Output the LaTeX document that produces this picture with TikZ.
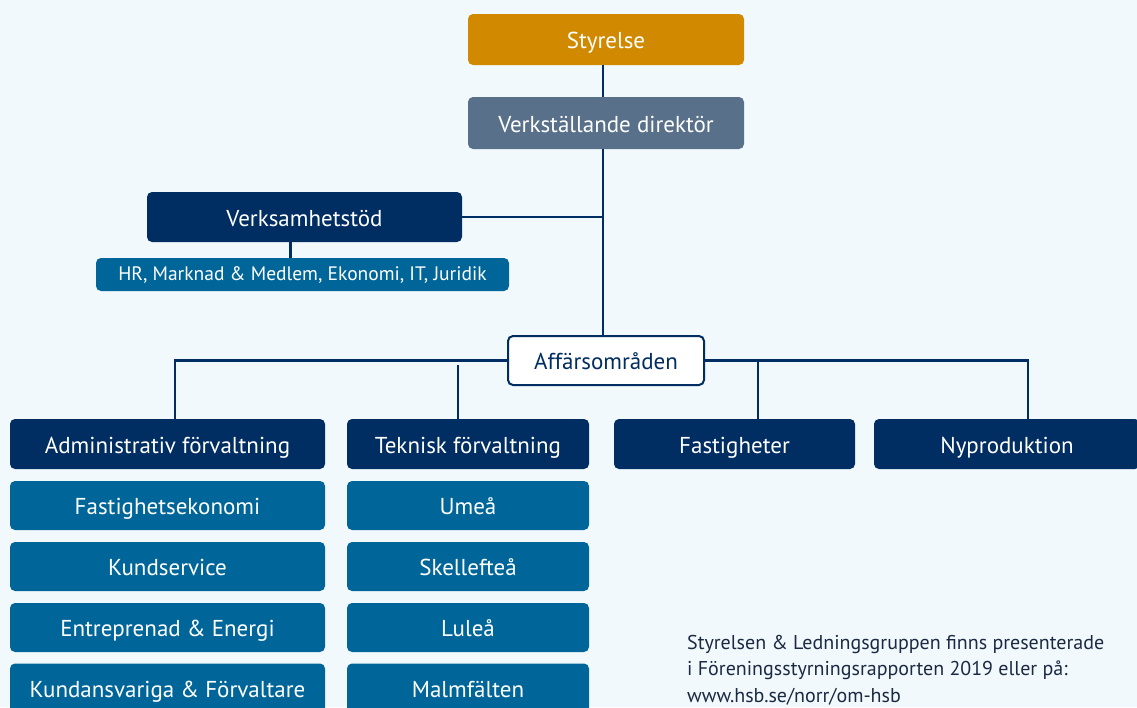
\documentclass[tikz,border=0pt]{standalone}
\usepackage{fontspec}
\setmainfont{PT Sans}
\definecolor{bgc}{HTML}{F2F9FC}
\definecolor{orangec}{HTML}{D18A00}
\definecolor{slatec}{HTML}{587089}
\definecolor{navyc}{HTML}{002D62}
\definecolor{bluec}{HTML}{00669A}
\definecolor{notec}{HTML}{1B2A44}
\begin{document}
\begin{tikzpicture}[x=1pt,y=-1pt,
  box/.style={rounded corners=5pt, text=white, inner sep=0pt, font=\fontsize{23}{27}\selectfont, align=center, text height=18pt, text depth=0pt},
  mainbox/.style={box, fill=navyc, minimum height=50pt},
  subbox/.style={box, fill=bluec, minimum height=49pt},
  conn/.style={draw=navyc, line width=2.4pt}]
\fill[bgc] (0,0) rectangle (1137,707);
\useasboundingbox (0,0) rectangle (1137,707);

\node[box, fill=orangec, minimum width=276pt, minimum height=51pt] (sty) at (606,39.5) {Styrelse};
\node[box, fill=slatec, minimum width=276pt, minimum height=52pt] (vd) at (606,123) {Verkställande direktör};
\node[mainbox, minimum width=315pt] (vs) at (304.5,217) {Verksamhetstöd};
\node[box, fill=bluec, minimum width=413pt, minimum height=33pt, font=\fontsize{19.5}{22}\selectfont, text height=11pt] (hr) at (302.5,274.5) {HR, Marknad \& Medlem, Ekonomi, IT, Juridik};
\node[box, fill=white, draw=navyc, line width=2pt, text=navyc, minimum width=196pt, minimum height=49pt] (aff) at (606,360.5) {Affärsområden};

\node[mainbox, minimum width=315pt] (adm) at (167.5,444) {Administrativ förvaltning};
\node[mainbox, minimum width=242pt] (tek) at (468,444) {Teknisk förvaltning};
\node[mainbox, minimum width=241pt] (fas) at (734.5,444) {Fastigheter};
\node[mainbox, minimum width=266pt] (nyp) at (1007,444) {Nyproduktion};

\node[subbox, minimum width=315pt] (a1) at (167.5,505.5) {Fastighetsekonomi};
\node[subbox, minimum width=315pt] (a2) at (167.5,566.5) {Kundservice};
\node[subbox, minimum width=315pt] (a3) at (167.5,627.5) {Entreprenad \& Energi};
\node[subbox, minimum width=315pt] (a4) at (167.5,688) {Kundansvariga \& Förvaltare};

\node[subbox, minimum width=242pt] (t1) at (468,505.5) {Umeå};
\node[subbox, minimum width=242pt] (t2) at (468,566.5) {Skellefteå};
\node[subbox, minimum width=242pt] (t3) at (468,627.5) {Luleå};
\node[subbox, minimum width=242pt] (t4) at (468,688) {Malmfälten};

\node[anchor=north west, inner sep=0pt, text=notec, align=left, font=\fontsize{20}{26.5}\selectfont] (note) at (687,635)
{Styrelsen \& Ledningsgruppen finns presenterade\\ i Föreningsstyrningsrapporten 2019 eller på:\\ www.hsb.se/norr/om-hsb};

\coordinate (sx) at (603,0);
\draw[conn] (sty.south -| sx) -- (vd.north -| sx);
\draw[conn] (vd.south -| sx) -- (aff.north -| sx);
\draw[conn] (vs.east) -- (vs.east -| sx);
\draw[conn] ([xshift=-14pt]vs.south) -- ([xshift=-14pt]vs.south |- hr.north);

\coordinate (ca) at (175,0);
\coordinate (ct) at (458,0);
\coordinate (cf) at (758,0);
\coordinate (cn) at (1028,0);
\draw[conn] (aff.west) -- (aff.west -| ca) -- (adm.north -| ca);
\draw[conn] ([yshift=-4pt]aff.west -| ct) -- (tek.north -| ct);
\draw[conn] (aff.east) -- (aff.east -| cn) -- (nyp.north -| cn);
\draw[conn] (aff.east -| cf) -- (fas.north -| cf);
\end{tikzpicture}
\end{document}
